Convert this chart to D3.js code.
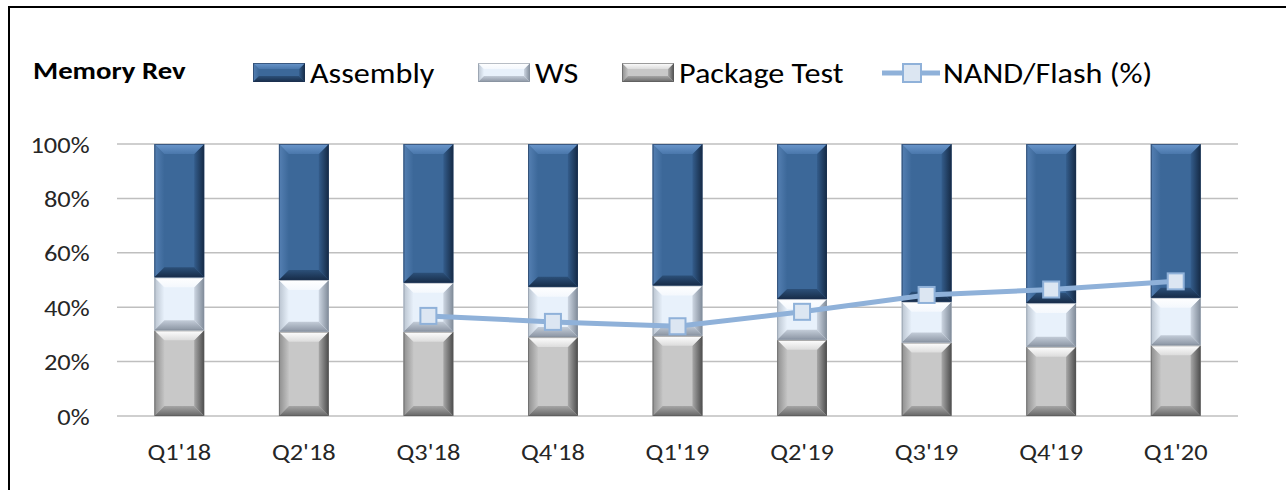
<!DOCTYPE html>
<html>
<head>
<meta charset="utf-8">
<script src="https://cdn.jsdelivr.net/npm/d3@7/dist/d3.min.js"></script>
<style>
  body { margin: 0; background: #fff; }
  text { font-family: Calibri, Carlito, Lato, sans-serif; }
</style>
</head>
<body>
<div id="chart"></div>
<script>
// data (percent of memory revenue)
var quarters = ["Q1'18", "Q2'18", "Q3'18", "Q4'18", "Q1'19", "Q2'19", "Q3'19", "Q4'19", "Q1'20"];
var packageTest = [31.5, 31, 31, 29, 29.5, 28, 27, 25.5, 26];
var ws = [19.5, 19, 18, 18.5, 18.5, 15, 15, 16, 17.5];
var assembly = [49, 50, 51, 52.5, 52, 57, 58, 58.5, 56.5];
var nand = [null, null, 36.8, 34.6, 33, 38.3, 44.5, 46.5, 49.5];
var yTicks = [0, 20, 40, 60, 80, 100];

var width = 1286, height = 490;
var x0 = 117, x1 = 1238, yTop = 144, yBot = 416;
var stretch = "scale(1.15,1)"; // the source picture is a bit wider than tall

var svg = d3.select("#chart").append("svg")
  .attr("width", width)
  .attr("height", height);
var defs = svg.append("defs");

// frame of the pasted chart
svg.append("path")
  .attr("d", "M9," + height + "V7H" + width)
  .attr("fill", "none")
  .attr("stroke", "#000")
  .attr("stroke-width", 2);

var x = d3.scaleBand().domain(quarters).range([x0, x1]).paddingInner(0.6).paddingOuter(0.3);
var y = d3.scaleLinear().domain([0, 100]).range([yBot, yTop]);

// bevel colours per series: [outer, inner] for each facet
var styles = {
  assembly: { id: "as", base: "#3c6899", top: ["#6b97cc", "#4a77ab"], left: ["#5580b3", "#3c6899"],
              right: ["#152a45", "#345d8c"], bottom: ["#172c48", "#2c5079"], edge: "#1c3252" },
  ws:       { id: "ws", base: "#e8f1fb", top: ["#ffffff", "#f4f8fd"], left: ["#b9c3cf", "#e8f1fb"],
              right: ["#7f8a98", "#cdd6e2"], bottom: ["#8a94a2", "#c3ccd8"], edge: "#87919f" },
  pt:       { id: "pt", base: "#c8c8c8", top: ["#ffffff", "#dcdcdc"], left: ["#8e8e8e", "#c4c4c4"],
              right: ["#4c4c4c", "#a8a8a8"], bottom: ["#666666", "#a6a6a6"], edge: "#5a5a5a" }
};

// one linear gradient per facet, running from the outer edge inward
var dirs = { top: [0, 0, 0, 1], bottom: [0, 1, 0, 0], left: [0, 0, 1, 0], right: [1, 0, 0, 0] };
Object.keys(styles).forEach(function (k) {
  var st = styles[k];
  Object.keys(dirs).forEach(function (f) {
    var d = dirs[f];
    var gr = defs.append("linearGradient").attr("id", st.id + "-" + f)
      .attr("x1", d[0]).attr("y1", d[1]).attr("x2", d[2]).attr("y2", d[3]);
    gr.append("stop").attr("offset", 0).attr("stop-color", st[f][0]);
    gr.append("stop").attr("offset", 1).attr("stop-color", st[f][1]);
  });
});

function bevel(g, bx, by, bw, bh, st, b) {
  b = Math.min(b, bh / 2, bw / 2);
  var pts = function (a) { return a.map(function (p) { return p.join(","); }).join(" "); };
  g.append("rect").attr("x", bx).attr("y", by).attr("width", bw).attr("height", bh).attr("fill", st.base);
  g.append("polygon").attr("fill", "url(#" + st.id + "-left)")
    .attr("points", pts([[bx, by], [bx + b, by + b], [bx + b, by + bh - b], [bx, by + bh]]));
  g.append("polygon").attr("fill", "url(#" + st.id + "-right)")
    .attr("points", pts([[bx + bw, by], [bx + bw - b, by + b], [bx + bw - b, by + bh - b], [bx + bw, by + bh]]));
  g.append("polygon").attr("fill", "url(#" + st.id + "-top)")
    .attr("points", pts([[bx, by], [bx + bw, by], [bx + bw - b, by + b], [bx + b, by + b]]));
  g.append("polygon").attr("fill", "url(#" + st.id + "-bottom)")
    .attr("points", pts([[bx, by + bh], [bx + bw, by + bh], [bx + bw - b, by + bh - b], [bx + b, by + bh - b]]));
  g.append("rect").attr("x", bx + 0.5).attr("y", by + 0.5).attr("width", bw - 1).attr("height", bh - 1)
    .attr("fill", "none").attr("stroke", st.edge).attr("stroke-width", 1).attr("opacity", 0.6);
}

// gridlines
svg.append("g").selectAll("line")
  .data(yTicks)
  .join("line")
  .attr("x1", x0).attr("x2", x1)
  .attr("y1", function (d) { return y(d); })
  .attr("y2", function (d) { return y(d); })
  .attr("stroke", "#bfbfbf")
  .attr("stroke-width", 1.5);

// y axis
var yAxis = svg.append("g")
  .attr("transform", "translate(" + (x0 - 24) + ",0)")
  .call(d3.axisLeft(y).tickValues(yTicks).tickSize(0).tickFormat(function (d) { return d + "%"; }));
yAxis.select(".domain").remove();
yAxis.selectAll("text").attr("font-size", 23).attr("fill", "#262626").attr("dy", "0.35em")
  .attr("transform", stretch)
  .style("font-family", "Calibri, Carlito, Lato, sans-serif");

// x axis
var xAxis = svg.append("g")
  .attr("transform", "translate(0," + (yBot + 28) + ")")
  .call(d3.axisBottom(x).tickSize(0));
xAxis.select(".domain").remove();
xAxis.selectAll("text").attr("font-size", 23).attr("fill", "#262626").attr("dy", "0.55em")
  .attr("transform", stretch)
  .style("font-family", "Calibri, Carlito, Lato, sans-serif");

// stacked bars
var bars = svg.append("g");
quarters.forEach(function (q, i) {
  var bx = x(q), bw = x.bandwidth();
  var segs = [
    { v0: 0, v1: packageTest[i], st: styles.pt },
    { v0: packageTest[i], v1: packageTest[i] + ws[i], st: styles.ws },
    { v0: packageTest[i] + ws[i], v1: packageTest[i] + ws[i] + assembly[i], st: styles.assembly }
  ];
  segs.forEach(function (s) {
    var top = y(s.v1), bot = y(s.v0);
    bevel(bars.append("g"), bx, top, bw, bot - top, s.st, 10);
  });
});

// NAND/Flash line
var lineColor = "#8fb1d9";
var pts = quarters.map(function (q, i) { return { q: q, v: nand[i] }; }).filter(function (d) { return d.v != null; });
var line = d3.line()
  .x(function (d) { return x(d.q) + x.bandwidth() / 2; })
  .y(function (d) { return y(d.v); });
svg.append("path")
  .datum(pts)
  .attr("d", line)
  .attr("fill", "none")
  .attr("stroke", lineColor)
  .attr("stroke-width", 5);
svg.append("g").selectAll("rect")
  .data(pts)
  .join("rect")
  .attr("x", function (d) { return x(d.q) + x.bandwidth() / 2 - 8; })
  .attr("y", function (d) { return y(d.v) - 8; })
  .attr("width", 16).attr("height", 16)
  .attr("fill", "#dce6f2")
  .attr("stroke", lineColor)
  .attr("stroke-width", 2);

// title
svg.append("g").attr("transform", "translate(33,79) " + stretch)
  .append("text")
  .attr("font-size", 25).attr("font-weight", "bold").attr("fill", "#000")
  .text("Memory Rev");

// legend
var legend = svg.append("g");
var items = [
  { name: "Assembly", st: styles.assembly, sx: 253, tx: 310 },
  { name: "WS", st: styles.ws, sx: 478, tx: 535 },
  { name: "Package Test", st: styles.pt, sx: 622, tx: 679 }
];
items.forEach(function (d) {
  bevel(legend.append("g"), d.sx, 63, 52, 19, d.st, 6);
  legend.append("g").attr("transform", "translate(" + d.tx + ",83) " + stretch)
    .append("text").attr("font-size", 28).attr("fill", "#000").text(d.name);
});
legend.append("line").attr("x1", 882).attr("x2", 940).attr("y1", 73).attr("y2", 73)
  .attr("stroke", lineColor).attr("stroke-width", 5);
legend.append("rect").attr("x", 903).attr("y", 64).attr("width", 18).attr("height", 18)
  .attr("fill", "#dce6f2").attr("stroke", lineColor).attr("stroke-width", 2);
legend.append("g").attr("transform", "translate(943,83) " + stretch)
  .append("text").attr("font-size", 28).attr("fill", "#000").text("NAND/Flash (%)");
</script>
</body>
</html>
